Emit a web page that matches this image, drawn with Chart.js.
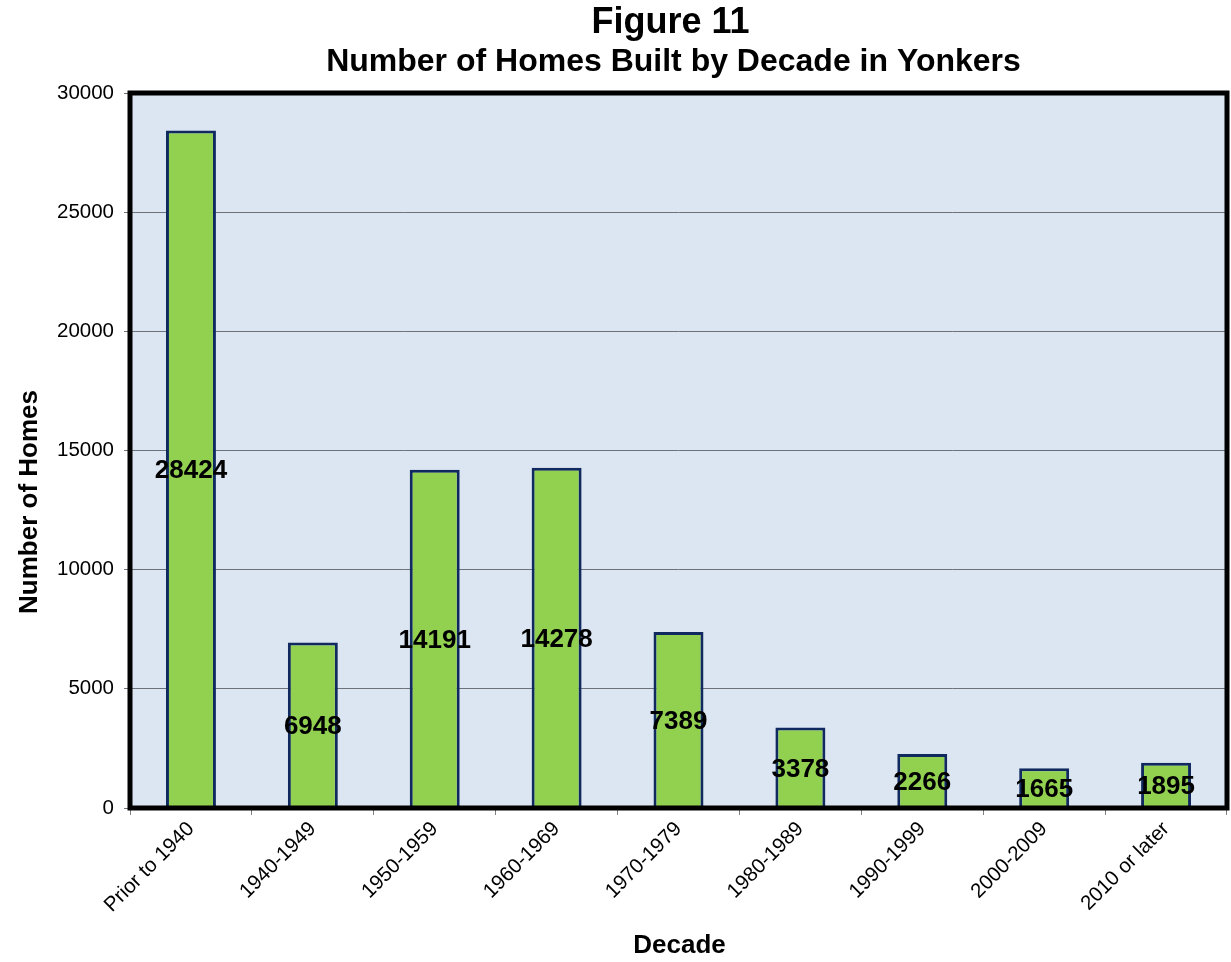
<!DOCTYPE html>
<html>
<head>
<meta charset="utf-8">
<script src="https://cdn.jsdelivr.net/npm/chart.js@4.4.1/dist/chart.umd.min.js"></script>
<style>
  html, body { margin: 0; padding: 0; background: #ffffff; }
  #wrap { width: 1231px; height: 962px; position: relative; }
</style>
</head>
<body>
<div id="wrap"><canvas id="homesChart"></canvas></div>
<script>
// --- data ---
const decades = ['Prior to 1940', '1940-1949', '1950-1959', '1960-1969', '1970-1979',
  '1980-1989', '1990-1999', '2000-2009', '2010 or later'];
const homesBuilt = [28424, 6948, 14191, 14278, 7389, 3378, 2266, 1665, 1895];
const yTicks = [0, 5000, 10000, 15000, 20000, 25000, 30000];

const titleLine1 = 'Figure 11';
const titleLine2 = 'Number of Homes Built by Decade in Yonkers';
const yTitle = 'Number of Homes';
const xTitle = 'Decade';

const FONT = '"Liberation Sans", Arial, Helvetica, sans-serif';

// --- plot background + heavy frame ---
const plotFrame = {
  id: 'plotFrame',
  beforeDraw(chart) {
    const { ctx, chartArea: a } = chart;
    ctx.save();
    ctx.fillStyle = '#dce6f2';
    ctx.fillRect(a.left, a.top, a.right - a.left, a.bottom - a.top);
    ctx.restore();
  },
  afterDatasetsDraw(chart) {
    const { ctx, chartArea: a } = chart;
    ctx.save();
    ctx.strokeStyle = '#000000';
    ctx.lineWidth = 5;
    ctx.strokeRect(a.left, a.top, a.right - a.left, a.bottom - a.top);
    ctx.restore();
  }
};

// --- values written in the middle of each bar ---
const barLabels = {
  id: 'barLabels',
  afterDraw(chart) {
    const { ctx } = chart;
    const meta = chart.getDatasetMeta(0);
    ctx.save();
    ctx.font = 'bold 26px ' + FONT;
    ctx.fillStyle = '#000000';
    ctx.textAlign = 'center';
    ctx.textBaseline = 'middle';
    meta.data.forEach((bar, i) => {
      const mid = (bar.y + bar.base) / 2;
      ctx.fillText(String(homesBuilt[i]), bar.x, mid + 2);
    });
    ctx.restore();
  }
};

// --- titles placed over the plot area like the original ---
const titles = {
  id: 'titles',
  afterDraw(chart) {
    const { ctx, chartArea: a } = chart;
    const cx = (a.left + a.right) / 2;
    ctx.save();
    ctx.fillStyle = '#000000';
    ctx.textAlign = 'center';
    ctx.textBaseline = 'middle';
    ctx.font = 'bold 36px ' + FONT;
    ctx.fillText(titleLine1, cx - 8, 23);
    ctx.font = 'bold 32px ' + FONT;
    ctx.fillText(titleLine2, cx - 5, 62);
    ctx.font = 'bold 26px ' + FONT;
    ctx.fillText(xTitle, cx + 1, 946);
    ctx.translate(30, 502);
    ctx.rotate(-Math.PI / 2);
    ctx.fillText(yTitle, 0, 0);
    ctx.restore();
  }
};

new Chart(document.getElementById('homesChart'), {
  type: 'bar',
  data: {
    labels: decades,
    datasets: [{
      data: homesBuilt,
      backgroundColor: '#92d050',
      borderColor: '#10295f',
      borderWidth: 3,
      barPercentage: 0.41,
      categoryPercentage: 1.0
    }]
  },
  options: {
    responsive: true,
    maintainAspectRatio: false,
    animation: false,
    layout: { padding: { top: 93, right: 4, left: 0, bottom: 0 } },
    plugins: {
      legend: { display: false },
      title: { display: false },
      tooltip: { enabled: false }
    },
    scales: {
      x: {
        offset: true,
        grid: {
          offset: true,
          drawOnChartArea: false,
          color: '#808080',
          tickLength: 7
        },
        border: { display: false },
        ticks: {
          color: '#000000',
          font: { family: FONT, size: 20.5 },
          minRotation: 45,
          maxRotation: 45,
          padding: 2
        },
        afterFit(scale) { scale.height = 154; }
      },
      y: {
        min: 0,
        max: 30000,
        afterBuildTicks(scale) { scale.ticks = yTicks.map(v => ({ value: v })); },
        grid: {
          color: '#6d7179',
          lineWidth: 1,
          tickLength: 6
        },
        border: { display: false },
        ticks: {
          color: '#000000',
          font: { family: FONT, size: 20.5 },
          padding: 10,
          callback: v => String(v)
        },
        afterFit(scale) { scale.width = 130; }
      }
    }
  },
  plugins: [plotFrame, barLabels, titles]
});
</script>
</body>
</html>
